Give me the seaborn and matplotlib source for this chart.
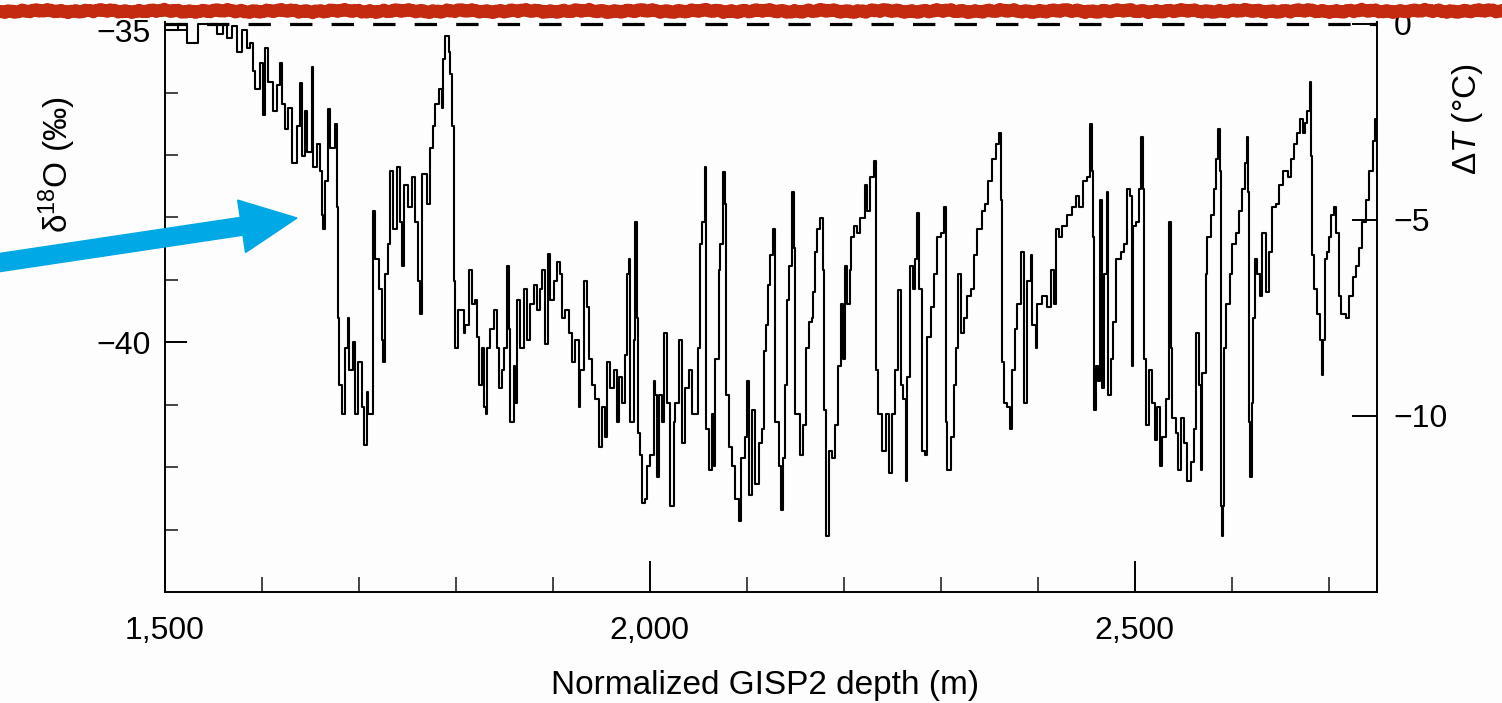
import numpy as np
import matplotlib
matplotlib.use("Agg")
import matplotlib.pyplot as plt
from matplotlib.lines import Line2D
from matplotlib.patches import FancyArrow
import seaborn as sns

# ====================== data ======================
# normalized GISP2 depth (m) and delta-18O (permil)
depth_m = [
    1503.4, 1513.8, 1522.4, 1534.4, 1544.7, 1553.3, 1560.2, 1563.6, 1568.8, 1574.0,
    1579.1, 1584.3, 1587.7, 1591.2, 1592.9, 1598.0, 1601.5, 1603.2, 1606.6, 1611.8,
    1615.2, 1618.7, 1620.4, 1623.8, 1627.3, 1630.7, 1635.9, 1639.3, 1641.0, 1644.5,
    1646.2, 1651.4, 1653.1, 1656.5, 1660.0, 1661.7, 1663.4, 1665.1, 1668.6, 1670.3,
    1675.4, 1677.2, 1677.9, 1678.6, 1679.6, 1682.3, 1685.8, 1688.5, 1689.9, 1694.4,
    1696.1, 1698.8, 1703.0, 1705.4, 1708.1, 1709.8, 1715.0, 1716.7, 1720.2, 1723.6,
    1725.3, 1727.0, 1730.5, 1732.2, 1735.6, 1739.1, 1742.5, 1744.2, 1746.0, 1751.1,
    1754.6, 1758.0, 1761.4, 1763.2, 1764.9, 1770.0, 1773.5, 1776.9, 1778.6, 1782.1,
    1785.5, 1787.2, 1789.0, 1792.4, 1794.1, 1796.5, 1797.9, 1799.3, 1802.7, 1807.9,
    1809.6, 1813.1, 1816.5, 1820.0, 1821.7, 1823.4, 1826.8, 1828.6, 1831.0, 1832.0,
    1835.4, 1838.9, 1842.3, 1844.0, 1847.5, 1849.2, 1852.6, 1854.4, 1856.1, 1859.5,
    1861.2, 1863.0, 1866.4, 1869.8, 1873.3, 1876.7, 1880.2, 1883.6, 1887.0, 1888.8,
    1891.5, 1895.0, 1897.4, 1900.8, 1904.2, 1907.7, 1909.4, 1912.8, 1916.3, 1919.7,
    1923.2, 1926.6, 1928.3, 1931.8, 1935.2, 1936.9, 1940.4, 1943.8, 1947.2, 1950.7,
    1954.1, 1955.8, 1959.3, 1962.7, 1966.2, 1967.9, 1971.3, 1974.8, 1976.5, 1978.2,
    1979.9, 1983.4, 1985.1, 1986.8, 1987.8, 1990.2, 1992.0, 1995.4, 1997.1, 2000.6,
    2004.0, 2005.7, 2007.4, 2009.2, 2012.6, 2014.3, 2017.8, 2021.2, 2024.6, 2026.4,
    2029.8, 2033.2, 2036.7, 2040.1, 2043.6, 2047.7, 2049.7, 2052.2, 2053.9, 2056.6,
    2058.0, 2060.8, 2064.2, 2065.9, 2067.6, 2071.1, 2072.8, 2075.2, 2077.3, 2078.6,
    2081.4, 2084.8, 2088.3, 2091.7, 2094.5,
    2098.6, 2100.4, 2102.1, 2105.5, 2109.0, 2112.4, 2115.8, 2117.6, 2120.0, 2122.0,
    2124.4, 2126.8, 2128.9, 2129.6, 2133.0, 2134.8, 2137.2, 2139.2, 2141.6, 2144.0,
    2146.8, 2148.5, 2149.6, 2152.0, 2155.4, 2157.8, 2160.6, 2164.0, 2166.8, 2168.1,
    2170.2, 2172.6, 2176.0, 2178.4, 2179.8, 2182.2, 2184.6, 2188.1, 2191.5, 2194.3,
    2196.7, 2199.1, 2201.2, 2203.6, 2206.0, 2208.0, 2210.4, 2213.9, 2217.3, 2221.8,
    2224.2, 2227.6, 2231.1, 2232.8, 2233.5, 2235.6, 2239.7, 2243.1, 2246.6, 2250.0,
    2253.4, 2256.2, 2258.6, 2261.0, 2263.8, 2265.5, 2267.9, 2271.3, 2273.4, 2275.8,
    2277.5, 2281.0, 2283.7, 2286.1, 2289.6, 2293.0, 2296.4, 2299.9, 2303.3, 2305.0,
    2306.8, 2310.2, 2313.6, 2315.4, 2318.1, 2320.5, 2324.0, 2327.4, 2330.8, 2334.3,
    2337.7, 2342.2, 2345.6, 2349.1, 2353.2, 2356.6, 2360.1, 2361.8, 2362.8, 2365.2,
    2368.7, 2371.1, 2373.8, 2376.6, 2379.0, 2382.4,
    2386.0, 2389.4, 2392.8, 2394.5, 2398.0, 2399.7, 2404.8, 2410.0, 2413.4, 2416.9,
    2418.6, 2422.0, 2425.5, 2430.6, 2435.8, 2439.2, 2442.7, 2446.8, 2451.3, 2453.7,
    2455.8, 2457.1, 2457.8, 2459.9, 2462.6, 2464.4, 2466.1, 2468.5, 2471.9, 2473.0,
    2475.4, 2477.8, 2480.5, 2485.7, 2489.1, 2492.6, 2495.0, 2497.0, 2498.4, 2501.8,
    2504.6, 2507.0, 2508.7, 2509.8, 2511.5, 2514.9, 2518.4, 2521.1, 2523.5, 2525.9,
    2528.7, 2532.1, 2535.6, 2537.3, 2539.0, 2542.4, 2545.2, 2547.6, 2551.0, 2554.5,
    2557.9, 2561.4, 2563.8, 2566.5, 2568.2, 2570.0, 2573.4, 2575.1, 2578.6, 2582.0,
    2584.4, 2586.1, 2587.8, 2588.9, 2589.9, 2591.3, 2592.7, 2594.7, 2598.2, 2600.9,
    2604.4, 2607.8, 2611.2, 2614.0, 2616.4, 2617.4, 2618.1, 2619.1, 2620.9, 2622.2,
    2624.3, 2626.7, 2629.1, 2631.9, 2635.3, 2638.8, 2642.2, 2645.6, 2649.1, 2653.2,
    2657.7, 2661.1, 2664.6, 2668.0, 2670.4, 2673.2, 2675.9, 2678.3, 2680.7, 2681.8,
    2682.8, 2685.2, 2688.6, 2691.0, 2692.8, 2694.5, 2696.2, 2698.6, 2700.7, 2702.4,
    2705.2, 2707.6, 2710.3, 2712.7, 2717.9, 2721.3, 2724.8, 2728.2, 2731.6, 2734.4,
    2738.5, 2742.0, 2745.4, 2748.2, 2749.5,
]
d18o = [
    -35.00, -34.90, -35.20, -34.90, -34.90, -35.06, -34.90, -35.12, -34.94, -35.35,
    -35.00, -35.29, -35.20, -35.65, -35.94, -35.53, -36.36, -35.29, -35.83, -36.30,
    -35.88, -35.53, -36.18, -36.59, -36.24, -37.13, -36.54, -35.85, -37.01, -36.30,
    -36.95, -35.59, -37.19, -36.83, -37.25, -37.96, -38.19, -37.42, -36.27, -36.89,
    -36.51, -36.77, -37.84, -39.61, -40.68, -41.15, -40.09, -39.61, -40.44, -40.00,
    -41.15, -40.32, -41.03, -41.65, -40.80, -41.15, -37.90, -38.67, -39.14, -39.97,
    -40.32, -38.90, -38.43, -37.25, -38.19, -37.19, -38.07, -38.78, -37.48, -37.84,
    -37.36, -38.07, -39.02, -39.55, -37.30, -37.78, -36.89, -36.54, -36.18, -35.94,
    -36.24, -35.47, -35.09, -35.35, -35.71, -36.54, -39.02, -40.09, -39.49, -39.85,
    -39.73, -38.84, -39.38, -39.32, -39.91, -40.68, -40.09, -41.03, -41.15, -40.09,
    -39.79, -39.49, -40.09, -40.74, -40.44, -40.09, -38.78, -39.79, -41.27, -40.38,
    -40.97, -39.32, -40.09, -39.14, -39.97, -39.38, -39.08, -39.49, -39.14, -38.84,
    -40.03, -38.58, -39.32, -39.02, -38.72, -38.90, -39.61, -39.49, -39.85, -40.32,
    -39.97, -41.03, -40.44, -39.02, -39.43, -40.26, -40.68, -40.91, -41.68, -41.03,
    -41.51, -40.32, -40.74, -40.44, -41.27, -40.56, -40.97, -40.20, -38.90, -38.67,
    -41.27, -39.97, -38.07, -39.61, -41.45, -41.80, -42.57, -42.51, -41.98, -41.80,
    -40.62, -40.85, -42.16, -40.85, -41.27, -39.85, -40.97, -42.63, -41.27, -40.97,
    -39.97, -41.62, -40.74, -40.44, -41.15, -41.15, -40.09, -38.43, -38.07, -37.19,
    -41.39, -42.04, -41.15, -41.98, -40.26, -38.84, -38.43, -37.27, -37.78, -40.85,
    -41.68, -41.98, -42.51, -42.87, -41.86,
    -41.51, -40.62, -42.45, -41.09, -42.27, -41.62, -41.39, -40.14, -39.73, -39.08,
    -38.61, -38.19, -39.08, -41.27, -41.98, -42.69, -41.86, -40.68, -39.32, -38.78,
    -37.60, -38.49, -41.15, -41.15, -41.80, -41.33, -40.09, -39.67, -39.61, -39.20,
    -38.55, -38.19, -38.01, -38.84, -41.09, -43.10, -41.74, -41.86, -41.33, -40.38,
    -39.38, -40.26, -38.78, -39.38, -38.84, -38.31, -38.13, -38.25, -38.01, -37.48,
    -37.90, -37.36, -37.10, -37.48, -40.44, -41.15, -41.74, -41.15, -42.10, -41.15,
    -40.44, -39.17, -40.68, -40.91, -42.22, -40.56, -38.78, -39.14, -38.67, -37.93,
    -39.14, -41.74, -41.80, -39.91, -39.43, -38.90, -38.31, -38.25, -37.84, -41.27,
    -42.04, -41.51, -40.68, -40.09, -38.90, -39.85, -39.61, -39.26, -39.14, -38.61,
    -38.19, -37.90, -37.78, -37.42, -37.07, -36.83, -36.65, -37.72, -40.32, -40.97,
    -41.03, -41.39, -40.44, -39.79, -39.38, -38.55,
    -40.97, -39.02, -38.61, -39.73, -40.09, -39.38, -39.26, -39.43, -38.84, -39.38,
    -38.19, -38.31, -38.13, -37.96, -37.84, -37.66, -37.84, -37.42, -37.36, -36.51,
    -37.25, -38.31, -41.09, -40.38, -40.62, -37.72, -40.74, -38.90, -37.60, -40.85,
    -40.26, -39.67, -38.67, -38.55, -38.43, -37.54, -37.66, -40.38, -38.13, -38.07,
    -37.54, -36.71, -37.54, -40.26, -41.33, -40.44, -40.97, -41.56, -41.03, -41.98,
    -41.51, -40.91, -38.07, -40.09, -41.21, -41.45, -42.04, -41.21, -41.62, -42.22,
    -41.92, -41.39, -39.85, -40.68, -42.04, -40.50, -38.90, -38.31, -37.96, -37.54,
    -37.07, -36.59, -37.25, -42.63, -43.10, -42.63, -40.09, -39.38, -38.90, -38.43,
    -38.25, -37.90, -37.54, -37.13, -36.71, -37.60, -41.27, -42.16, -40.97, -39.61,
    -38.67, -38.90, -39.26, -38.25, -39.20, -38.55, -37.84, -37.78, -37.48, -37.25,
    -37.36, -37.07, -36.83, -36.65, -36.42, -36.65, -36.48, -36.30, -35.83, -37.01,
    -38.61, -39.14, -39.55, -39.97, -40.53, -39.97, -38.67, -38.55, -38.31, -37.96,
    -37.84, -38.25, -39.26, -39.55, -39.61, -39.26, -38.96, -38.78, -38.49, -38.07,
    -37.72, -37.25, -36.77, -36.42, -37.30,
]

x_major = [1500, 2000, 2500]
x_major_labels = ["1,500", "2,000", "2,500"]
x_minor = [1600, 1700, 1800, 1900, 2100, 2200, 2300, 2400, 2600, 2700]
y_major = [-40, -35]
y_minor = [-43, -42, -41, -39, -38, -37, -36]
dt_ticks = [0, -5, -10]

# ====================== style ======================
sns.set_theme(style="ticks")
plt.rcParams["font.family"] = ["Liberation Sans", "DejaVu Sans"]
plt.rcParams["mathtext.fontset"] = "custom"
plt.rcParams["mathtext.rm"] = "Liberation Sans"
plt.rcParams["mathtext.it"] = "Liberation Sans:italic"
plt.rcParams["axes.unicode_minus"] = True

bg = "#FDFDFD"
fig = plt.figure(figsize=(15.02, 7.03), dpi=100, facecolor=bg)
ax = fig.add_axes([165 / 1502, 111 / 703, 1212 / 1502, 570 / 703])
ax.set_facecolor(bg)

sns.lineplot(x=depth_m, y=d18o, ax=ax, color="black", linewidth=1.5,
             estimator=None, sort=False, drawstyle="steps-post")

ax.set_xlim(1500, 2750)
ax.set_ylim(-44, -34.87)
ax.set_xticks(x_major)
ax.set_xticklabels(x_major_labels)
ax.set_xticks(x_minor, minor=True)
ax.set_yticks(y_major)
ax.set_yticks(y_minor, minor=True)
ax.tick_params(axis="x", which="major", direction="in", length=22, width=1.4,
               pad=17, labelsize=23, colors="black")
ax.tick_params(axis="x", which="minor", direction="in", length=11, width=1.2)
ax.tick_params(axis="y", which="major", direction="in", length=16, width=1.4,
               pad=10, labelsize=23, colors="black")
ax.tick_params(axis="y", which="minor", direction="in", length=9, width=1.2)
for s in ["top", "right"]:
    ax.spines[s].set_visible(False)
for s in ["left", "bottom"]:
    ax.spines[s].set_linewidth(1.4)
    ax.spines[s].set_color("black")

ax.set_xlabel("Normalized GISP2 depth (m)", fontsize=24, color="black")
ax.xaxis.set_label_coords(0.495, -0.137)
ax.set_ylabel("δ$^{18}$O (‰)", fontsize=24, color="black")
ax.yaxis.set_label_coords(-0.072, 0.749)

# temperature axis on the right
ax2 = ax.twinx()
ax2.set_ylim(-14.49, 0.05)
ax2.set_yticks(dt_ticks)
ax2.tick_params(axis="y", direction="in", length=18, width=1.4, pad=12,
                labelsize=23, colors="black")
for s in ["top", "left", "bottom"]:
    ax2.spines[s].set_visible(False)
ax2.spines["right"].set_linewidth(1.4)
ax2.spines["right"].set_color("black")
ax2.set_ylabel("Δ$\\it{T}$ (°C)", fontsize=24, color="black")
ax2.yaxis.set_label_coords(1.06, 0.83)
ax2.axhline(0, color="black", lw=2.3, ls=(0, (7, 6)), clip_on=False)

# red torn edge at the top
xs = np.linspace(0, 1, 1500)
wob = (0.7 * np.sin(xs * 733) + 0.5 * np.sin(xs * 1931 + 1.3)
       + 0.6 * np.sin(xs * 157 + 0.4) + 0.3 * np.sin(xs * 4177))
fig.add_artist(Line2D(xs, 1 - (11 + wob) / 703, transform=fig.transFigure,
                      color="#C42A10", lw=9))

# blue arrow
arrow = FancyArrow(-0.1, 4.39, 3.07, 0.46, width=0.18, head_width=0.53,
                   head_length=0.56, length_includes_head=True,
                   color="#00A8E5", transform=fig.dpi_scale_trans)
fig.add_artist(arrow)

fig.savefig("out.png", dpi=100, facecolor=bg)
